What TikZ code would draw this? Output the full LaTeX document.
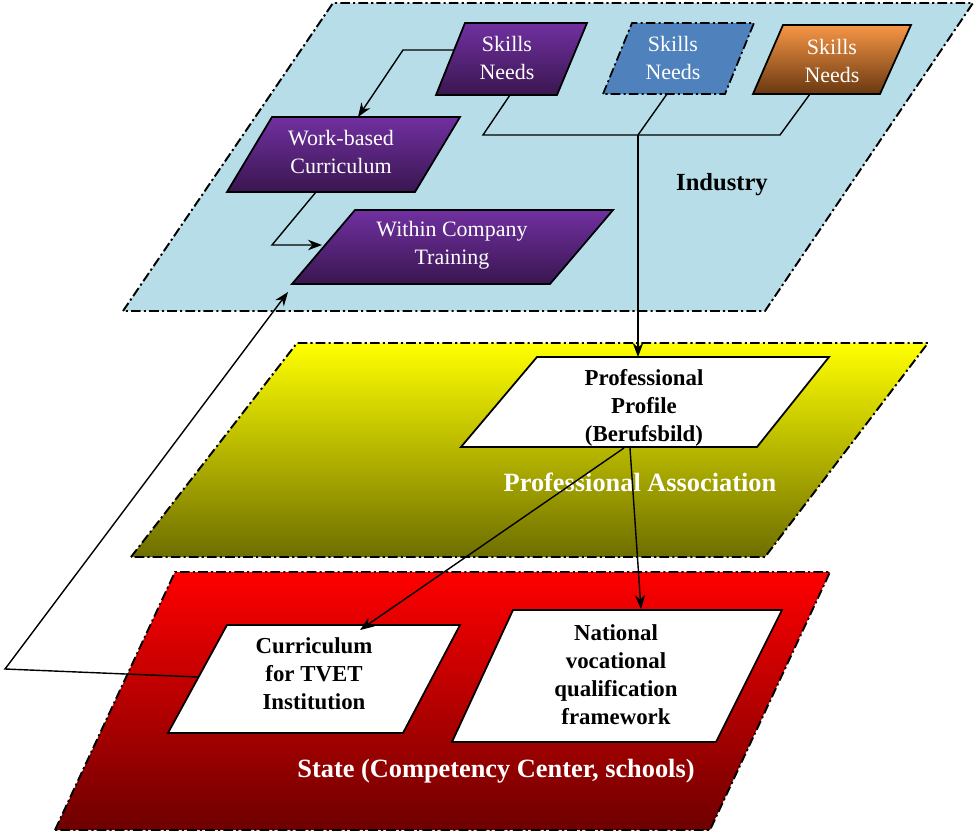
\documentclass[tikz,border=0pt]{standalone}
\usepackage{fontspec}
\setmainfont{Liberation Serif}
\usetikzlibrary{arrows.meta}

\definecolor{industryblue}{HTML}{B7DEE8}
\definecolor{purpletop}{HTML}{7030A0}
\definecolor{purplebottom}{HTML}{3A1650}
\definecolor{orangetop}{HTML}{F79646}
\definecolor{orangebottom}{HTML}{693810}
\definecolor{skillsblue}{HTML}{4F81BD}
\definecolor{olivebottom}{HTML}{6E6E00}
\definecolor{redbottom}{HTML}{6E0000}

\tikzset{
  layer/.style={draw=black, line width=1.1pt, dash pattern=on 5.5pt off 1.8pt on 1.2pt off 1.8pt},
  box/.style={draw=black, line width=1pt},
  skillstext/.style={text=white, align=center, font=\fontsize{12.5}{15.9}\selectfont},
  boldtext/.style={align=center, font=\bfseries\fontsize{13}{15.9}\selectfont},
  layertext/.style={font=\bfseries\fontsize{14}{16}\selectfont},
  link/.style={draw=black, line width=0.8pt},
  arrow/.style={link, -{Stealth[length=8pt, width=6pt]}},
}

\begin{document}
\begin{tikzpicture}[x=0.02cm, y=-0.02cm]
  \useasboundingbox (0,0) rectangle (975,835);

  % the three layers
  \path[layer, fill=industryblue] (123,311) -- (333,3) -- (973,3) -- (765,311) -- cycle;
  \shadedraw[layer, top color=yellow, bottom color=olivebottom]
    (131,557) -- (297,343) -- (928,343) -- (765,557) -- cycle;
  \shadedraw[layer, top color=red, bottom color=redbottom]
    (55,830) -- (175,572) -- (830,572) -- (710,830) -- cycle;

  % Industry layer boxes
  \shadedraw[box, top color=purpletop, bottom color=purplebottom]
    (436,95) -- (465,23) -- (587,23) -- (557,95) -- cycle;
  \node[skillstext] (sn1) at (507,58) {Skills\\Needs};
  \path[layer, line width=1pt, fill=skillsblue]
    (603,94) -- (632,23) -- (754,23) -- (725,94) -- cycle;
  \node[skillstext] (sn2) at (673,58) {Skills\\Needs};
  \shadedraw[box, top color=orangetop, bottom color=orangebottom]
    (753,94) -- (783,25) -- (911,25) -- (880,94) -- cycle;
  \node[skillstext] (sn3) at (832,61) {Skills\\Needs};

  \shadedraw[box, top color=purpletop, bottom color=purplebottom]
    (227,192) -- (272,117) -- (460,117) -- (415,192) -- cycle;
  \node[skillstext] (wbc) at (341,152) {Work-based\\Curriculum};
  \shadedraw[box, top color=purpletop, bottom color=purplebottom]
    (292,284) -- (355,210) -- (613,210) -- (550,284) -- cycle;
  \node[skillstext] (wct) at (452,245) {Within Company\\Training};

  \node[layertext] (industry) at (722,185) {Industry};

  % Professional Association layer
  \path[box, fill=white] (461,447) -- (537,357) -- (829,357) -- (757,447) -- cycle;
  \node[boldtext] (profile) at (644,408) {Professional\\Profile\\(Berufsbild)};
  \node[layertext, font=\bfseries\fontsize{15}{17}\selectfont, text=white] (assoc) at (640,482) {Professional Association};

  % State layer
  \path[box, fill=white] (168,733) -- (227,625) -- (460,625) -- (403,733) -- cycle;
  \node[boldtext] (tvet) at (314,674) {Curriculum\\for TVET\\Institution};
  \path[box, fill=white] (452,742) -- (513,610) -- (782,610) -- (716,742) -- cycle;
  \node[boldtext] (nvqf) at (616,675) {National\\vocational\\qualification\\framework};
  \node[layertext, font=\bfseries\fontsize{15}{17}\selectfont, text=white] (state) at (496,771) {State (Competency Center, schools)};

  % attachment points on the box edges
  \coordinate (sn1 west) at (454,50);
  \coordinate (sn1 south) at (510,95);
  \coordinate (sn2 south) at (667,94);
  \coordinate (sn3 south) at (810,94);
  \coordinate (wbc north) at (358,117);
  \coordinate (wbc south) at (316,192);
  \coordinate (wct west) at (322,245);
  \coordinate (wct south) at (288,292);
  \coordinate (profile north) at (638,357);
  \coordinate (profile south a) at (624,448);
  \coordinate (profile south b) at (630,448);
  \coordinate (tvet north) at (360,630);
  \coordinate (tvet west) at (198,677);
  \coordinate (nvqf north) at (641,609);
  \coordinate (join) at (638,135);

  % connectors
  \draw[arrow] (sn1 west) -- (403,50) -- (wbc north);
  \draw[arrow] (wbc south) -- (272,245) -- (wct west);
  \draw[link] (sn1 south) -- (483,135) -- (780,135) -- (sn3 south);
  \draw[link] (sn2 south) -- (join);
  \draw[arrow] (join) -- (profile north);
  \draw[arrow] (profile south a) -- (tvet north);
  \draw[arrow] (profile south b) -- (nvqf north);
  \draw[arrow] (tvet west) -- (5,669) -- (wct south);
\end{tikzpicture}
\end{document}
